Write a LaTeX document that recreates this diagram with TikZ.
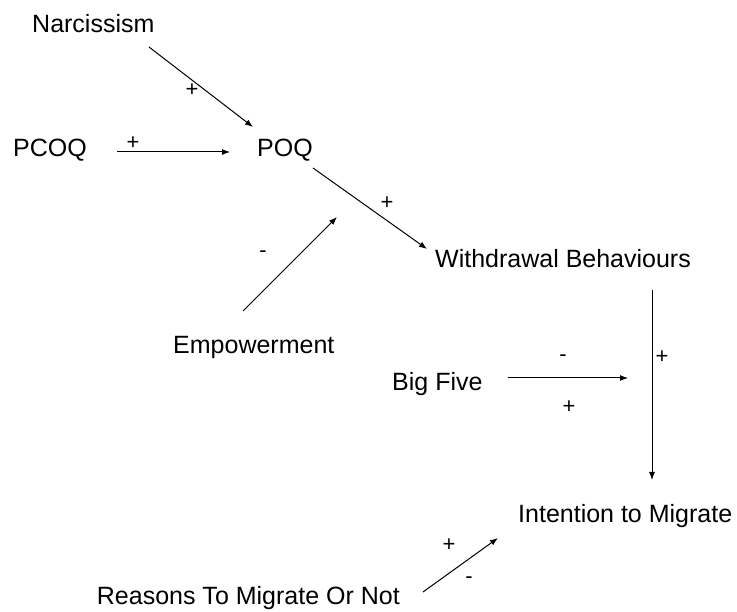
\documentclass[tikz,border=0pt]{standalone}
\usepackage{fontspec}
\setmainfont{Liberation Sans}
\usetikzlibrary{arrows.meta}
\tikzset{
  lbl/.style={inner sep=0pt, anchor=base west, font=\fontsize{25}{28}\selectfont},
  sgn/.style={inner sep=0pt, font=\fontsize{22}{24}\selectfont},
  conn/.style={line width=1pt, -{Latex[length=8pt,width=6pt]}},
}
\begin{document}
\begin{tikzpicture}[x=1pt,y=-1pt]
\useasboundingbox (0,0) rectangle (737,612);
% texts
\node[lbl] (narc) at (32,33) {Narcissism};
\node[lbl] (pcoq) at (13,157) {PCOQ};
\node[lbl] (poq) at (257,157) {POQ};
\node[lbl] (wb) at (435,268) {Withdrawal Behaviours};
\node[lbl] (emp) at (173,354) {Empowerment};
\node[lbl] (big) at (392,391) {Big Five};
\node[lbl] (itm) at (518,522) {Intention to Migrate};
\node[lbl, anchor=base east] (rsn) at (400,604) {Reasons To Migrate Or Not};
% connector end points
\coordinate (n1) at (149,47);   \coordinate (n2) at (253,127);
\coordinate (p1) at (117,152);  \coordinate (p2) at (230,152);
\coordinate (q1) at (313,168);  \coordinate (q2) at (427,249);
\coordinate (e1) at (243,311);  \coordinate (e2) at (337,217);
\coordinate (b1) at (508,378);  \coordinate (b2) at (628,378);
\coordinate (w1) at (652,290);  \coordinate (w2) at (652,480);
\coordinate (r1) at (423,592);  \coordinate (r2) at (498,538);
% connectors
\draw[conn] (n1) -- (n2);
\draw[conn] (p1) -- (p2);
\draw[conn] (q1) -- (q2);
\draw[conn] (e1) -- (e2);
\draw[conn] (b1) -- (b2);
\draw[conn] (w1) -- (w2);
\draw[conn] (r1) -- (r2);
% signs
\node[sgn] (s1) at (192,90) {+};
\node[sgn] (s2) at (133,143) {+};
\node[sgn] (s3) at (387,203) {+};
\node[sgn] (s4) at (263,254) {-};
\node[sgn] (s5) at (563,358) {-};
\node[sgn] (s6) at (569,407) {+};
\node[sgn] (s7) at (662,357) {+};
\node[sgn] (s8) at (449,545) {+};
\node[sgn] (s9) at (469,580) {-};
\end{tikzpicture}
\end{document}
